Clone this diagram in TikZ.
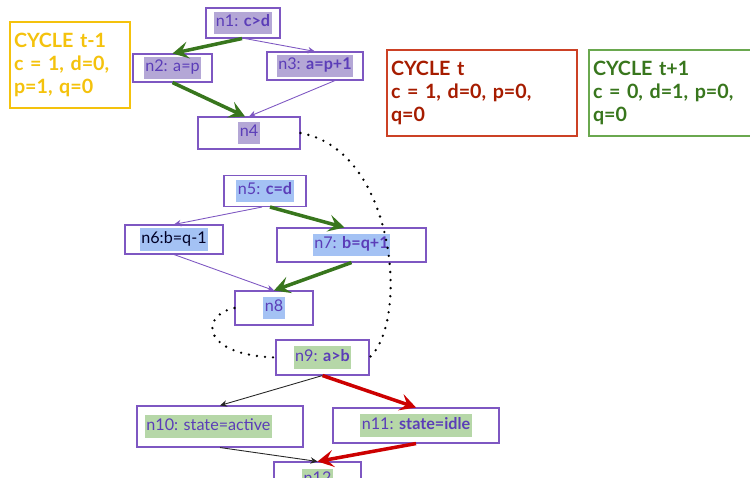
\documentclass[tikz,border=0pt]{standalone}
\usepackage{fontspec}
\setmainfont{Lato}
\usepackage{xcolor}
\usepackage{tikz}
\usetikzlibrary{arrows.meta,calc}
\definecolor{cfpurple}{HTML}{7E57C2}
\definecolor{cftext}{HTML}{5B3DB8}
\definecolor{hlpurple}{HTML}{B4A7D6}
\definecolor{hlblue}{HTML}{A4C2F4}
\definecolor{hlgreen}{HTML}{B6D7A8}
\definecolor{cfgreen}{HTML}{38761D}
\definecolor{cfred}{HTML}{CC0000}
\definecolor{cyyellow}{HTML}{F4C20D}
\definecolor{cyred}{HTML}{A61C00}
\definecolor{cyredline}{HTML}{CC4125}
\definecolor{cygreenline}{HTML}{6AA84F}
\newcommand{\hl}[2]{{\setlength{\fboxsep}{0.8pt}\colorbox{#1}{\strut #2}}}

\begin{document}
\begin{tikzpicture}[
  x=0.02cm, y=-0.02cm,
  font=\fontsize{9.2}{11}\selectfont,
  sz/.style 2 args={minimum width=#1*0.02cm, minimum height=#2*0.02cm},
  blk/.style={draw=cfpurple, line width=0.6pt, fill=white, text=cftext, inner sep=1pt},
  cyc/.style={draw, line width=0.6pt, align=left, inner sep=0pt,
    font=\fontsize{11.2}{13.2}\selectfont\bfseries},
  thin/.style={-{Stealth[length=1.4mm, width=1.3mm]}, line width=0.5pt, cfpurple},
  hot/.style={-{Stealth[length=3.2mm, width=3.4mm, inset=1.3mm]}, line width=2pt},
  dots/.style={line width=1.5pt, line cap=round, dash pattern=on 0pt off 4.6pt},
]
\clip (0,0) rectangle (750,477);

% ---- cycle value boxes ----
\node[cyc, draw=cyyellow, text=cyyellow, sz={120}{86}, text width=112*0.02cm] (cyc1) at (70,65)
  {CYCLE t-1\\c = 1, d=0,\\p=1, q=0};
\node[cyc, draw=cyredline, text=cyred, sz={190}{86}, text width=182*0.02cm] (cyc2) at (482,93)
  {CYCLE t\\c = 1, d=0, p=0,\\q=0};
\node[cyc, draw=cygreenline, text=cfgreen, sz={171}{86}, text width=163*0.02cm] (cyc3) at (674.5,93)
  {CYCLE t+1\\c = 0, d=1, p=0,\\q=0};

% ---- first diamond ----
\node[blk, sz={74}{30}]  (n1) at (243,23)    {\hl{hlpurple}{n1: \textbf{c>d}}};
\node[blk, sz={79}{28}]  (n2) at (172.5,68)  {\hl{hlpurple}{n2: a=p}};
\node[blk, sz={96}{28}]  (n3) at (315,66)    {\hl{hlpurple}{n3: \textbf{a=p+1}}};
\node[blk, sz={102}{32}] (n4) at (249,133)   {\hl{hlpurple}{n4}};

% ---- second diamond ----
\node[blk, sz={82}{31}]  (n5) at (265,191)   {\hl{hlblue}{n5: \textbf{c=d}}};
\node[blk, sz={98}{29}, text=black!85!blue] (n6) at (174,239.5) {\hl{hlblue}{n6:b=q-1}};
\node[blk, sz={149}{34}] (n7) at (351.5,245) {\hl{hlblue}{n7: \textbf{b=q+1}}};
\node[blk, sz={78}{34}]  (n8) at (274,308)   {\hl{hlblue}{n8}};

% ---- third diamond ----
\node[blk, sz={93}{35}]  (n9)  at (322.5,357.5) {\hl{hlgreen}{n9: \textbf{a>b}}};
\node[blk, sz={166}{41}, inner xsep=4pt] (n10) at (220,426.5)
  {\makebox[3cm][l]{\hl{hlgreen}{n10: state=active}}};
\node[blk, sz={166}{35}] (n11) at (416,425.5) {\hl{hlgreen}{n11: \textbf{state=idle}}};
\node[blk, sz={87}{36}]  (n12) at (317.5,480) {\hl{hlgreen}{n12}};

% ---- edges ----
\draw[hot, cfgreen] ($(n1.south)+(-1,0)$) -- (n2.north);
\draw[thin] ($(n1.south)+(2,0)$) -- (n3.north);
\draw[hot, cfgreen] (n2.south) -- ($(n4.north)+(-4,0)$);
\draw[thin] ($(n3.south)+(20,0)$) -- (n4.north);

\draw[thin] ($(n5.south)+(-3,0)$) -- (n6.north);
\draw[hot, cfgreen] ($(n5.south)+(5,0)$) -- ($(n7.north)+(-7,0)$);
\draw[thin] (n6.south) -- (n8.north);
\draw[hot, cfgreen] (n7.south) -- (n8.north);

\draw[thin, black!85] (n9.south) -- (n10.north);
\draw[hot, cfred] (n9.south) -- (n11.north);
\draw[thin, black!85] (n10.south) -- (n12.north);
\draw[hot, cfred] (n11.south) -- (n12.north);

% ---- dotted links into n9 ----
\draw[dots] (n4.east) .. controls (395,150) and (410,320) .. (n9.east);
\draw[dots] (n8.west) .. controls (200,315) and (200,355) .. (n9.west);
\end{tikzpicture}
\end{document}
